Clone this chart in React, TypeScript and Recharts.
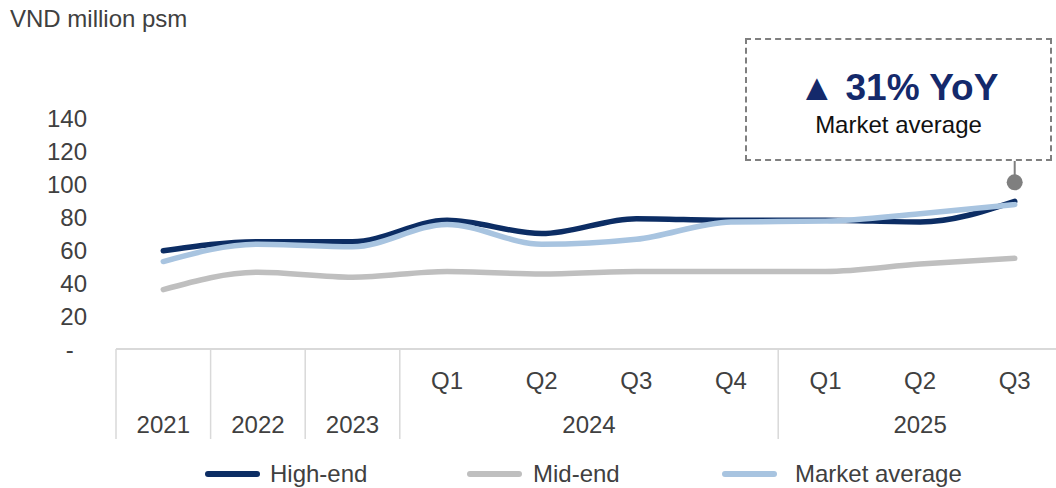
import { Line, LineChart, ReferenceDot, ReferenceLine, XAxis, YAxis } from "recharts";

// category keys, quarter labels and year groups
const periods = ["2021", "2022", "2023", "2024 Q1", "2024 Q2", "2024 Q3", "2024 Q4", "2025 Q1", "2025 Q2", "2025 Q3"];
const quarterLabels = ["", "", "", "Q1", "Q2", "Q3", "Q4", "Q1", "Q2", "Q3"];
const yearLabels = ["2021", "2022", "2023", "2024", "2024", "2024", "2024", "2025", "2025", "2025"];

// VND million psm
const highEnd = [59.5, 65, 65, 78, 70, 79, 78, 78, 77, 89.5];
const midEnd = [36, 46.5, 43.5, 47, 45.5, 47, 47, 47, 51.5, 55];
const marketAvg = [53, 63.5, 62, 75.5, 63.5, 66.5, 77, 77.5, 82, 87.5];

const yTicks = [0, 20, 40, 60, 80, 100, 120, 140];

// annotation
const calloutPeriod = "2025 Q3";
const calloutDot = 101;
const calloutTop = 114;
const calloutHead = "▲ 31% YoY";
const calloutSub = "Market average";

const data = periods.map((p, i) => ({
  key: p,
  high: highEnd[i],
  mid: midEnd[i],
  avg: marketAvg[i],
}));

const series = [
  { key: "high", name: "High-end", color: "#0c2d64" },
  { key: "mid", name: "Mid-end", color: "#bfbfbf" },
  { key: "avg", name: "Market average", color: "#a8c4e0" },
];

const FONT = "'Liberation Sans', Arial, sans-serif";
const TEXT = "#404040";
const GRID = "#d9d9d9";
const FS = 24;
const BAND = 94.6;

function CategoryTick(props: any) {
  const { x, y, payload } = props;
  const i = payload.index;
  const year = yearLabels[i];
  const start = i === 0 || yearLabels[i - 1] !== year;
  let len = 0;
  if (start) {
    for (let j = i; j < yearLabels.length && yearLabels[j] === year; j++) len++;
  }
  const left = x - BAND / 2;
  return (
    <g>
      {quarterLabels[i] && (
        <text x={x} y={y + 31} textAnchor="middle" dominantBaseline="central" fill={TEXT} fontSize={FS} fontFamily={FONT}>
          {quarterLabels[i]}
        </text>
      )}
      {start && <line x1={left} x2={left} y1={y} y2={y + 90} stroke={GRID} strokeWidth={1.5} />}
      {start && (
        <text x={left + (len * BAND) / 2} y={y + 75} textAnchor="middle" dominantBaseline="central" fill={TEXT} fontSize={FS} fontFamily={FONT}>
          {year}
        </text>
      )}
    </g>
  );
}

export default function App() {
  return (
    <div style={{ position: "absolute", left: 0, top: 0, width: 1056, height: 488, overflow: "hidden", background: "#fff", fontFamily: FONT }}>
      <div style={{ position: "absolute", left: 10, top: 5, fontSize: FS, color: TEXT }}>VND million psm</div>

      <LineChart width={1062} height={488} data={data} margin={{ top: 118, right: 0, left: 0, bottom: 39 }}>
        <XAxis
          dataKey="key"
          scale="band"
          height={100}
          axisLine={{ stroke: GRID, strokeWidth: 2 }}
          tickLine={false}
          tickSize={0}
          tickMargin={0}
          interval={0}
          tick={<CategoryTick />}
        />
        <YAxis
          width={116}
          domain={[0, 140]}
          ticks={yTicks}
          axisLine={false}
          tickLine={false}
          tickSize={0}
          tickMargin={29}
          tick={{ fill: TEXT, fontSize: FS, fontFamily: FONT }}
          tickFormatter={(v: number) => (v === 0 ? "-\u00a0\u00a0" : String(v))}
        />
        {series.map((s) => (
          <Line
            key={s.key}
            dataKey={s.key}
            name={s.name}
            type="monotone"
            stroke={s.color}
            strokeWidth={5.5}
            strokeLinecap="round"
            dot={false}
            activeDot={false}
            isAnimationActive={false}
          />
        ))}
        <ReferenceLine
          segment={[
            { x: calloutPeriod, y: calloutDot },
            { x: calloutPeriod, y: calloutTop },
          ]}
          stroke="#7f7f7f"
          strokeWidth={2}
        />
        <ReferenceDot x={calloutPeriod} y={calloutDot} r={8} fill="#7f7f7f" stroke="none" />
      </LineChart>

      <div
        style={{
          position: "absolute",
          left: 745,
          top: 38,
          width: 303,
          height: 119,
          border: "2px dashed #7f7f7f",
          background: "#fff",
          textAlign: "center",
        }}
      >
        <div style={{ marginTop: 28, fontSize: 37, fontWeight: 700, color: "#14296b", lineHeight: "40px" }}>{calloutHead}</div>
        <div style={{ marginTop: 3, fontSize: FS, color: "#111", lineHeight: "28px" }}>{calloutSub}</div>
      </div>

      {series.map((s, i) => (
        <div key={s.key} style={{ position: "absolute", left: [205, 467, 722][i], top: 460, display: "flex", alignItems: "center", height: 28 }}>
          <div style={{ width: 55, height: 6, borderRadius: 3, background: s.color, marginRight: [10, 11, 18][i] }} />
          <span style={{ fontSize: FS, color: TEXT }}>{s.name}</span>
        </div>
      ))}
    </div>
  );
}
